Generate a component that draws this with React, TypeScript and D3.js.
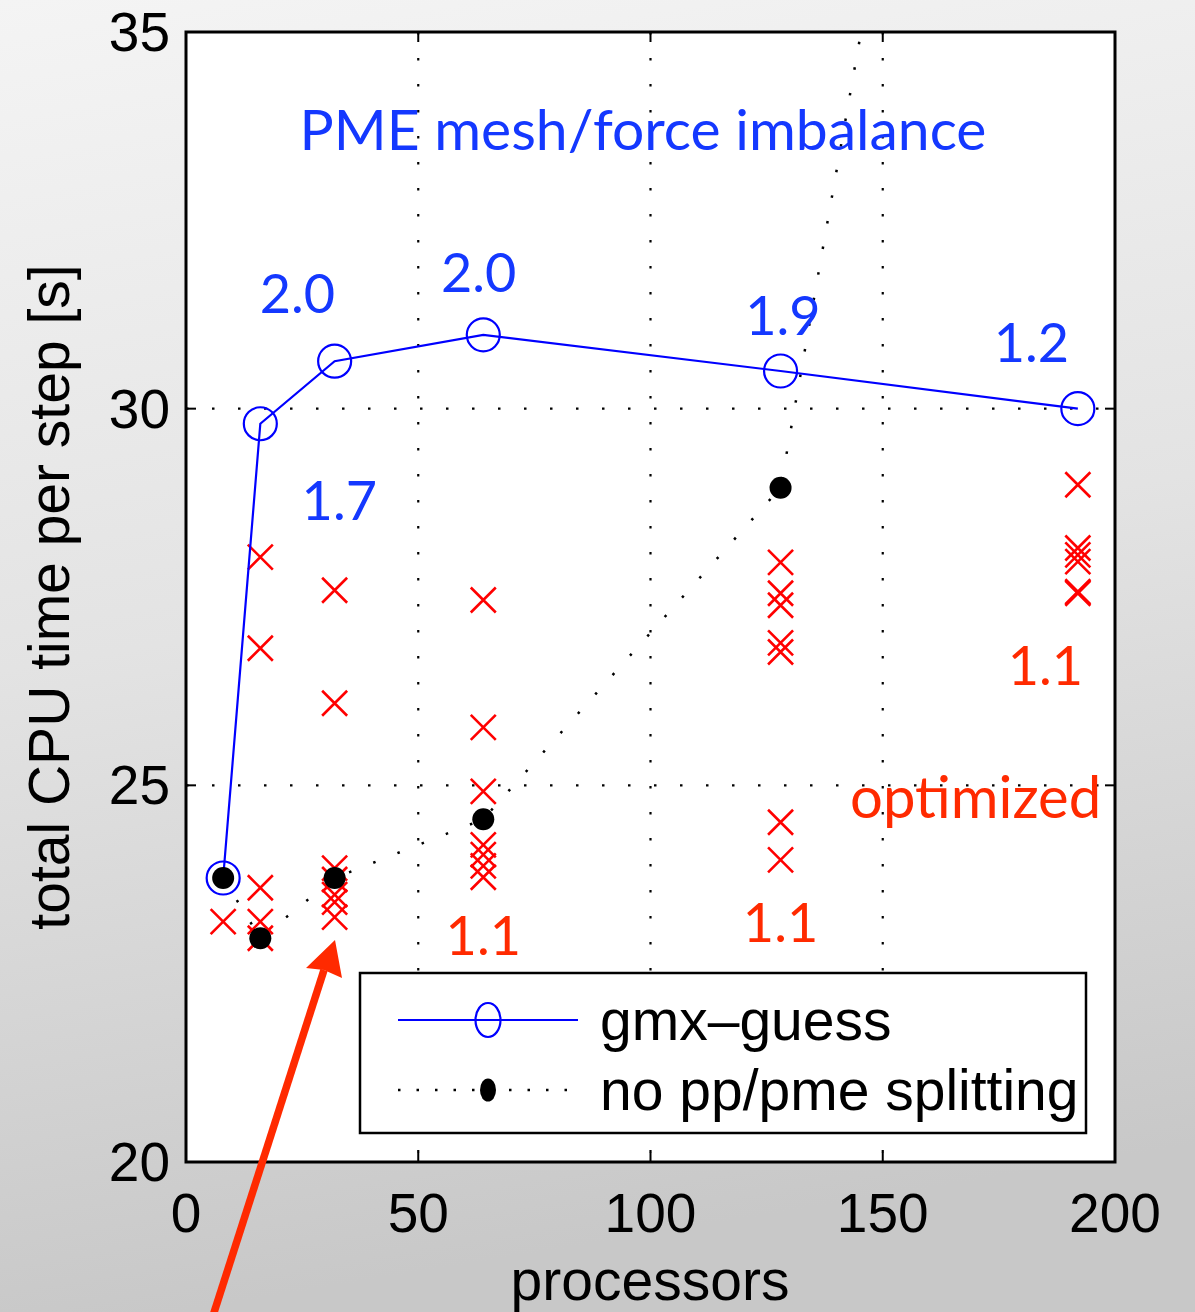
import React from "react";
import * as d3 from "d3";

const procs = [8, 16, 32, 64, 128, 192];
const gmxGuess = [23.77, 29.8, 30.63, 30.98, 30.5, 30.0];
const noSplit = [23.77, 22.97, 23.77, 24.55, 28.95, 51.3];
const optX = [8, 16, 16, 16, 16, 16, 32, 32, 32, 32, 32, 32, 32, 64, 64, 64, 64, 64, 64, 64, 128, 128, 128, 128, 128, 128, 128, 192, 192, 192, 192, 192, 192];
const optY = [23.19, 28.03, 26.82, 23.64, 23.19, 22.97, 27.59, 26.09, 23.9, 23.75, 23.55, 23.45, 23.25, 27.46, 25.77, 24.92, 24.21, 24.08, 23.93, 23.78, 27.96, 27.55, 27.39, 26.89, 26.77, 24.51, 24.01, 28.99, 28.15, 28.06, 27.97, 27.57, 27.55];
const xTicks = [0, 50, 100, 150, 200];
const yTicks = [20, 25, 30, 35];
const ratioLabels = ["2.0", "2.0", "1.9", "1.2", "1.7"];
const ratioX = [24, 63, 128.5, 182, 33];
const ratioY = [31.27, 31.55, 30.98, 30.62, 28.52];
const optLabels = ["1.1", "1.1", "1.1", "optimized"];
const optLabelX = [64, 128, 185, 170];
const optLabelY = [22.75, 22.92, 26.33, 24.57];

const W = 1195, H = 1312;
const L = 186, R = 1115, T = 32, B = 1162;

export default function App() {
  const x = d3.scaleLinear().domain([0, 200]).range([L, R]);
  const y = d3.scaleLinear().domain([20, 35]).range([B, T]);
  const line = d3.line<number>().x((_, i) => x(procs[i])).y((d) => y(d));
  const axisFont = "'Liberation Sans', Arial, Helvetica, sans-serif";
  const annFont = "Lato, 'Open Sans', sans-serif";
  const dotDash = "2.5 23.5";
  const cs = 12.5;
  return (
    <svg width={W} height={H} style={{ position: "absolute", left: 0, top: 0, display: "block" }}>
      <defs>
        <linearGradient id="bg" x1="0" y1="0" x2="0.15" y2="1">
          <stop offset="0" stopColor="#f4f4f4" />
          <stop offset="0.5" stopColor="#e3e3e3" />
          <stop offset="1" stopColor="#c8c8c8" />
        </linearGradient>
        <clipPath id="plot">
          <rect x={L} y={T} width={R - L} height={B - T} />
        </clipPath>
      </defs>
      <rect x={0} y={0} width={W} height={H} fill="url(#bg)" />
      <rect x={L} y={T} width={R - L} height={B - T} fill="#fff" />
      {xTicks.slice(1, -1).map((t) => (
        <line key={"gx" + t} x1={x(t)} x2={x(t)} y1={T} y2={B} stroke="#000" strokeWidth={2.2} strokeDasharray={dotDash} />
      ))}
      {yTicks.slice(1, -1).map((t) => (
        <line key={"gy" + t} x1={L} x2={R} y1={y(t)} y2={y(t)} stroke="#000" strokeWidth={2.2} strokeDasharray={dotDash} />
      ))}
      {xTicks.map((t) => (
        <g key={"tx" + t}>
          <line x1={x(t)} x2={x(t)} y1={B} y2={B - 10} stroke="#000" strokeWidth={2} />
          <line x1={x(t)} x2={x(t)} y1={T} y2={T + 10} stroke="#000" strokeWidth={2} />
          <text x={x(t)} y={1232} textAnchor="middle" fontFamily={axisFont} fontSize={55}>{t}</text>
        </g>
      ))}
      {yTicks.map((t) => (
        <g key={"ty" + t}>
          <line x1={L} x2={L + 10} y1={y(t)} y2={y(t)} stroke="#000" strokeWidth={2} />
          <line x1={R} x2={R - 10} y1={y(t)} y2={y(t)} stroke="#000" strokeWidth={2} />
          <text x={170} y={y(t) + 19} textAnchor="end" fontFamily={axisFont} fontSize={55}>{t}</text>
        </g>
      ))}
      <g clipPath="url(#plot)">
        <path d={line(noSplit) || ""} fill="none" stroke="#000" strokeWidth={2.5} strokeDasharray={dotDash} />
        {optY.map((v, i) => (
          <path key={"c" + i} d={`M${x(optX[i]) - cs},${y(v) - cs}L${x(optX[i]) + cs},${y(v) + cs}M${x(optX[i]) - cs},${y(v) + cs}L${x(optX[i]) + cs},${y(v) - cs}`} stroke="#ff0000" strokeWidth={2.6} fill="none" />
        ))}
        <path d={line(gmxGuess) || ""} fill="none" stroke="#0000ff" strokeWidth={2.2} />
        {gmxGuess.map((v, i) => (
          <circle key={"b" + i} cx={x(procs[i])} cy={y(v)} r={16.5} fill="none" stroke="#0000ff" strokeWidth={2.2} />
        ))}
        {noSplit.map((v, i) => (
          <circle key={"k" + i} cx={x(procs[i])} cy={y(v)} r={11} fill="#000" />
        ))}
      </g>
      <rect x={L} y={T} width={R - L} height={B - T} fill="none" stroke="#000" strokeWidth={3} />
      <text x={643} y={150} textAnchor="middle" fontFamily={annFont} fontSize={57} fill="#1438ff">PME mesh/force imbalance</text>
      {ratioLabels.map((s, i) => (
        <text key={"r" + i} x={x(ratioX[i])} y={y(ratioY[i])} textAnchor="middle" fontFamily={annFont} fontSize={54} fill="#1438ff">{s}</text>
      ))}
      {optLabels.map((s, i) => (
        <text key={"o" + i} x={x(optLabelX[i])} y={y(optLabelY[i])} textAnchor="middle" fontFamily={annFont} fontSize={s.length > 3 ? 58 : 54} fill="#ff2a00">{s}</text>
      ))}
      <rect x={360} y={973} width={726} height={160} fill="#fff" stroke="#000" strokeWidth={2.5} />
      <line x1={398} x2={578} y1={1020} y2={1020} stroke="#0000ff" strokeWidth={2.2} />
      <ellipse cx={488} cy={1020} rx={12.5} ry={17} fill="none" stroke="#0000ff" strokeWidth={2.2} />
      <text x={600} y={1040} fontFamily={axisFont} fontSize={57}>gmx–guess</text>
      <line x1={398} x2={578} y1={1090} y2={1090} stroke="#000" strokeWidth={2.5} strokeDasharray="2.5 16" />
      <ellipse cx={488} cy={1090} rx={8} ry={11.5} fill="#000" />
      <text x={600} y={1110} fontFamily={axisFont} fontSize={57}>no pp/pme splitting</text>
      <text x={650} y={1300} textAnchor="middle" fontFamily={axisFont} fontSize={57}>processors</text>
      <text transform={`translate(69,597) rotate(-90)`} textAnchor="middle" fontFamily={axisFont} fontSize={57}>total CPU time per step [s]</text>
      <line x1={210} y1={1325} x2={324} y2={970} stroke="#ff2a00" strokeWidth={7.5} />
      <path d="M335,940 L342,978 L324,970 L306,968 Z" fill="#ff2a00" />
    </svg>
  );
}
